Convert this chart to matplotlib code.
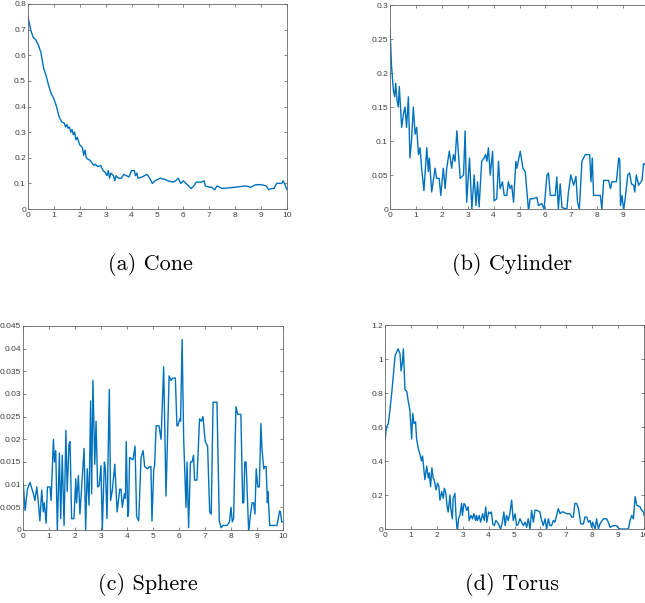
import matplotlib
matplotlib.use('Agg')
import matplotlib.pyplot as plt

# (a) Cone
cone_x = [0, 0.1, 0.2, 0.3, 0.4, 0.5, 0.6, 0.7, 0.8, 0.9, 1.0, 1.1, 1.2, 1.3, 1.4,
          1.45, 1.5, 1.55, 1.6, 1.65, 1.7, 1.75, 1.8, 1.85, 1.9, 2.0, 2.1, 2.15, 2.2,
          2.25, 2.3, 2.4, 2.5, 2.55, 2.6, 2.7, 2.8, 2.9, 3.0, 3.05, 3.1, 3.15, 3.2,
          3.3, 3.35, 3.4, 3.5, 3.6, 3.7, 3.8, 3.9, 4.0, 4.1, 4.15, 4.2, 4.25, 4.4,
          4.6, 4.7, 4.8, 4.9, 5.0, 5.1, 5.3, 5.4, 5.6, 5.7, 5.8, 5.9, 6.0, 6.1, 6.2,
          6.3, 6.4, 6.5, 6.7, 6.8, 6.85, 7.0, 7.1, 7.2, 7.3, 7.4, 7.5, 8.0, 8.4, 8.6,
          8.8, 9.0, 9.2, 9.3, 9.4, 9.5, 9.6, 9.8, 9.85, 9.9, 10.0]
cone_y = [0.75, 0.70, 0.67, 0.66, 0.64, 0.61, 0.55, 0.52, 0.48, 0.45, 0.43, 0.40,
          0.36, 0.34, 0.335, 0.32, 0.33, 0.315, 0.32, 0.30, 0.31, 0.29, 0.30, 0.27,
          0.28, 0.25, 0.24, 0.21, 0.23, 0.20, 0.195, 0.19, 0.175, 0.17, 0.175, 0.165,
          0.17, 0.15, 0.14, 0.13, 0.15, 0.12, 0.14, 0.13, 0.11, 0.13, 0.12, 0.12,
          0.135, 0.13, 0.125, 0.15, 0.15, 0.13, 0.14, 0.12, 0.125, 0.135, 0.12, 0.10,
          0.11, 0.115, 0.12, 0.115, 0.11, 0.105, 0.11, 0.12, 0.10, 0.11, 0.10, 0.09,
          0.08, 0.09, 0.105, 0.105, 0.11, 0.09, 0.085, 0.085, 0.075, 0.09, 0.085,
          0.08, 0.085, 0.09, 0.085, 0.095, 0.095, 0.09, 0.075, 0.08, 0.08, 0.10,
          0.10, 0.11, 0.10, 0.075]

# (b) Cylinder
cyl_x = [0, 0.06, 0.13, 0.18, 0.22, 0.27, 0.32, 0.36, 0.45, 0.52, 0.58, 0.64, 0.71,
         0.77, 0.83, 0.9, 0.97, 1.03, 1.1, 1.16, 1.22, 1.31, 1.42, 1.48, 1.52, 1.61,
         1.74, 1.8, 1.9, 1.96, 2.06, 2.13, 2.19, 2.29, 2.38, 2.45, 2.51, 2.58, 2.71,
         2.84, 2.9, 2.96, 3.07, 3.16, 3.25, 3.32, 3.38, 3.44, 3.54, 3.63, 3.69, 3.74,
         3.8, 3.87, 3.96, 4.02, 4.12, 4.19, 4.25, 4.34, 4.41, 4.51, 4.57, 4.64, 4.7,
         4.77, 4.86, 4.9, 5.03, 5.13, 5.22, 5.35, 5.41, 5.5, 5.67, 5.73, 5.86, 5.95,
         6.06, 6.12, 6.19, 6.38, 6.44, 6.5, 6.57, 6.64, 6.83, 6.89, 6.98, 7.09, 7.18,
         7.24, 7.31, 7.41, 7.54, 7.71, 7.76, 7.81, 7.86, 8.12, 8.18, 8.25, 8.44, 8.51,
         8.57, 8.74, 8.83, 8.87, 8.9, 8.96, 9.02, 9.08, 9.18, 9.25, 9.32, 9.41, 9.45,
         9.51, 9.6, 9.73, 9.79, 9.86, 10.0]
cyl_y = [0.265, 0.21, 0.175, 0.165, 0.185, 0.16, 0.15, 0.18, 0.12, 0.14, 0.15, 0.12,
         0.165, 0.075, 0.10, 0.15, 0.11, 0.12, 0.08, 0.09, 0.06, 0.027, 0.09, 0.055,
         0.075, 0.025, 0.06, 0.045, 0.045, 0.02, 0.06, 0.03, 0.06, 0.085, 0.06, 0.08,
         0.07, 0.115, 0.045, 0.05, 0.115, 0.01, 0.075, 0.0, 0.05, 0.005, 0.04, 0.003,
         0.07, 0.075, 0.08, 0.07, 0.09, 0.05, 0.085, 0.012, 0.015, 0.07, 0.03, 0.04,
         0.02, 0.02, 0.04, 0.03, 0.035, 0.01, 0.07, 0.06, 0.085, 0.06, 0.055, -0.003,
         0.015, 0.015, 0.017, 0.005, 0.008, 0.0, 0.05, 0.053, 0.02, 0.02, 0.047, 0.0,
         0.037, 0.002, 0.0, 0.025, 0.05, 0.035, 0.048, 0.01, 0.0, 0.07, 0.08, 0.08,
         0.04, 0.075, 0.02, 0.02, 0.0, 0.042, 0.042, 0.03, 0.04, 0.04, 0.075, 0.072,
         0.005, 0.02, -0.002, 0.015, 0.05, 0.053, 0.037, 0.035, 0.025, 0.05, 0.035,
         0.042, 0.067, 0.065, 0.06]

# (c) Sphere
sph_x = [0, 0.01, 0.08, 0.17, 0.27, 0.4, 0.46, 0.53, 0.59, 0.65, 0.72, 0.78, 0.82,
         0.89, 0.94, 1.04, 1.08, 1.17, 1.21, 1.26, 1.32, 1.4, 1.45, 1.51, 1.58, 1.65,
         1.7, 1.77, 1.81, 1.87, 1.96, 2.03, 2.06, 2.13, 2.19, 2.35, 2.41, 2.47, 2.54,
         2.6, 2.64, 2.69, 2.76, 2.81, 2.87, 2.93, 3.0, 3.05, 3.13, 3.17, 3.23, 3.32,
         3.37, 3.44, 3.53, 3.62, 3.72, 3.77, 3.82, 3.9, 3.94, 3.97, 4.03, 4.06, 4.1,
         4.23, 4.31, 4.37, 4.45, 4.54, 4.62, 4.68, 4.79, 4.87, 4.92, 4.96, 5.03, 5.06,
         5.12, 5.23, 5.31, 5.41, 5.5, 5.62, 5.69, 5.76, 5.86, 5.92, 5.96, 6.03, 6.06,
         6.12, 6.18, 6.27, 6.31, 6.37, 6.44, 6.5, 6.56, 6.6, 6.69, 6.79, 6.86, 6.92,
         7.01, 7.1, 7.18, 7.24, 7.31, 7.46, 7.55, 7.62, 7.69, 7.85, 7.94, 8.0, 8.05,
         8.1, 8.19, 8.26, 8.38, 8.45, 8.49, 8.53, 8.58, 8.68, 8.74, 8.81, 8.87, 8.92,
         8.97, 9.03, 9.09, 9.15, 9.19, 9.26, 9.29, 9.35, 9.4, 9.42, 9.49, 9.77, 9.87,
         9.9, 9.95, 10.0]
sph_y = [0.008, 0.0103, 0.0043, 0.009, 0.0105, 0.008, 0.0065, 0.0095, 0.006, 0.002,
         0.0088, 0.004, 0.006, 0.0015, 0.0095, 0.0095, 0.0065, 0.020, 0.015, 0.0175,
         0.0, 0.017, 0.0025, 0.0165, 0.001, 0.022, 0.0085, 0.019, 0.0195, 0.0025,
         0.0025, 0.0113, 0.006, 0.012, 0.0035, 0.018, 0.0, 0.0135, 0.0055, 0.0285,
         0.008, 0.033, 0.0145, 0.024, 0.0095, 0.0098, 0.0142, 0.0, 0.015, 0.0135,
         0.0025, 0.031, 0.0065, 0.009, 0.0145, 0.004, 0.009, 0.009, 0.005, 0.008,
         0.007, 0.0195, 0.003, 0.004, 0.016, 0.0155, 0.0185, 0.003, 0.002, 0.016,
         0.0175, 0.014, 0.0135, 0.014, 0.014, 0.002, 0.0135, 0.014, 0.023, 0.023,
         0.020, 0.036, 0.0075, 0.034, 0.033, 0.0335, 0.0335, 0.023, 0.023, 0.0245,
         0.024, 0.042, 0.020, 0.005, 0.015, 0.0005, 0.015, 0.015, 0.0165, 0.011,
         0.011, 0.0245, 0.024, 0.025, 0.0195, 0.0185, 0.004, 0.0035, 0.0282, 0.0282,
         0.002, 0.0005, 0.001, 0.001, 0.0018, 0.005, 0.0018, 0.0025, 0.0272, 0.0255,
         0.0255, 0.006, 0.006, 0.015, 0.015, -0.0005, 0.003, 0.006, 0.006, 0.0035,
         0.0135, 0.0095, 0.0095, 0.0235, 0.018, 0.0135, 0.014, 0.014, 0.006, 0.0085,
         0.001, 0.001, 0.0042, 0.004, 0.0018, 0.0018]

# (d) Torus
tor_x = [0, 0.06, 0.13, 0.19, 0.26, 0.32, 0.39, 0.45, 0.51, 0.58, 0.62, 0.67, 0.71,
         0.77, 0.84, 0.9, 0.96, 1.03, 1.07, 1.12, 1.18, 1.22, 1.29, 1.35, 1.41, 1.45,
         1.5, 1.54, 1.61, 1.67, 1.71, 1.76, 1.81, 1.86, 1.9, 1.97, 2.03, 2.08, 2.12,
         2.19, 2.25, 2.29, 2.35, 2.4, 2.44, 2.51, 2.54, 2.6, 2.63, 2.7, 2.74, 2.79,
         2.84, 2.89, 2.96, 2.99, 3.05, 3.1, 3.15, 3.21, 3.25, 3.32, 3.38, 3.43, 3.5,
         3.53, 3.57, 3.64, 3.69, 3.77, 3.83, 3.89, 3.93, 4.0, 4.05, 4.11, 4.16, 4.22,
         4.28, 4.34, 4.41, 4.46, 4.52, 4.59, 4.64, 4.69, 4.76, 4.83, 4.89, 4.95, 5.02,
         5.08, 5.15, 5.21, 5.34, 5.41, 5.47, 5.53, 5.6, 5.66, 5.73, 5.79, 5.86, 5.98,
         6.05, 6.11, 6.18, 6.24, 6.31, 6.37, 6.43, 6.5, 6.56, 6.69, 6.76, 6.82, 6.89,
         7.01, 7.14, 7.21, 7.27, 7.33, 7.4, 7.47, 7.56, 7.66, 7.72, 7.79, 7.85, 7.92,
         7.98, 8.02, 8.11, 8.17, 8.24, 8.3, 8.43, 8.56, 8.62, 8.69, 8.82, 8.94, 9.05,
         9.4, 9.46, 9.53, 9.59, 9.66, 9.72, 9.85, 9.91, 9.98, 10.0]
tor_y = [0.52, 0.60, 0.62, 0.70, 0.80, 0.90, 1.02, 1.04, 1.06, 1.03, 0.93, 0.98,
         1.06, 0.82, 0.81, 0.75, 0.70, 0.53, 0.68, 0.62, 0.63, 0.53, 0.47, 0.44,
         0.40, 0.43, 0.35, 0.29, 0.37, 0.30, 0.33, 0.25, 0.36, 0.30, 0.29, 0.23,
         0.27, 0.25, 0.17, 0.22, 0.18, 0.24, 0.21, 0.13, 0.10, 0.20, 0.12, 0.06,
         0.18, 0.21, 0.08, -0.02, 0.06, 0.08, 0.15, 0.08, 0.15, 0.14, 0.11, 0.13,
         0.05, 0.08, 0.06, 0.09, 0.05, 0.08, 0.05, 0.08, 0.04, 0.09, 0.05, 0.13,
         0.04, 0.10, 0.09, 0.10, 0.03, 0.02, 0.05, 0.04, 0.02, 0.0, 0.03, 0.10,
         0.02, 0.08, 0.05, 0.10, 0.17, 0.05, 0.09, 0.02, 0.03, 0.06, 0.02, 0.04,
         0.01, 0.06, 0.0, 0.11, 0.04, 0.11, 0.11, 0.10, 0.05, 0.02, 0.06, 0.0,
         0.06, 0.02, 0.02, 0.05, 0.04, 0.12, 0.09, 0.10, 0.10, 0.09, 0.09, 0.07,
         0.07, 0.15, 0.15, 0.12, 0.03, 0.03, 0.07, 0.07, 0.04, 0.05, 0.01, 0.04,
         0.0, 0.06, 0.0, 0.03, 0.06, 0.06, 0.04, 0.01, 0.02, 0.02, 0.0, 0.0, 0.05,
         0.08, 0.06, 0.19, 0.14, 0.13, 0.11, 0.10, 0.08]

xticks = list(range(11))
xlabels = [str(v) for v in xticks]

cone_yt = [0, 0.1, 0.2, 0.3, 0.4, 0.5, 0.6, 0.7, 0.8]
cone_yl = ['0', '0.1', '0.2', '0.3', '0.4', '0.5', '0.6', '0.7', '0.8']
cyl_yt = [0, 0.05, 0.1, 0.15, 0.2, 0.25, 0.3]
cyl_yl = ['0', '0.05', '0.1', '0.15', '0.2', '0.25', '0.3']
sph_yt = [0, 0.005, 0.01, 0.015, 0.02, 0.025, 0.03, 0.035, 0.04, 0.045]
sph_yl = ['0', '0.005', '0.01', '0.015', '0.02', '0.025', '0.03', '0.035', '0.04', '0.045']
tor_yt = [0, 0.2, 0.4, 0.6, 0.8, 1.0, 1.2]
tor_yl = ['0', '0.2', '0.4', '0.6', '0.8', '1', '1.2']

captions = ['(a) Cone', '(b) Cylinder', '(c) Sphere', '(d) Torus']

W, H = 645, 603
fig = plt.figure(figsize=(W / 100, H / 100), dpi=100)

# axes boxes in pixels: left, top, right, bottom
boxes = [(28, 4, 287, 209), (390, 5, 649, 209), (23, 326, 283, 530), (385, 325, 644, 529)]
panels = [(cone_x, cone_y, cone_yt, cone_yl),
          (cyl_x, cyl_y, cyl_yt, cyl_yl),
          (sph_x, sph_y, sph_yt, sph_yl),
          (tor_x, tor_y, tor_yt, tor_yl)]
cap_pos = [(150, 265), (512, 265), (148, 585), (512, 585)]

for (l, t, r, b), (xs, ys, yt, yl), cap, (cx, cy) in zip(boxes, panels, captions, cap_pos):
    ax = fig.add_axes([l / W, 1 - b / H, (r - l) / W, (b - t) / H])
    ax.plot(xs, ys, color='#0072BD', lw=1.0)
    ax.set_xlim(0, 10)
    ax.set_ylim(yt[0], yt[-1])
    ax.set_xticks(xticks)
    ax.set_xticklabels(xlabels)
    ax.set_yticks(yt)
    ax.set_yticklabels(yl)
    ax.tick_params(direction='in', top=True, right=True, length=2.5, width=0.5,
                   color='#555555', labelcolor='#404040', labelsize=6, pad=2)
    ax.tick_params(axis='y', pad=1.5)
    for s in ax.spines.values():
        s.set_color('#666666')
        s.set_linewidth(0.6)
    for lab in ax.get_xticklabels() + ax.get_yticklabels():
        lab.set_family('Liberation Sans')
    fig.text(cx / W, 1 - cy / H, cap, ha='center', va='center',
             family='cmr10', fontsize=16)

fig.savefig('out.png', dpi=100)
